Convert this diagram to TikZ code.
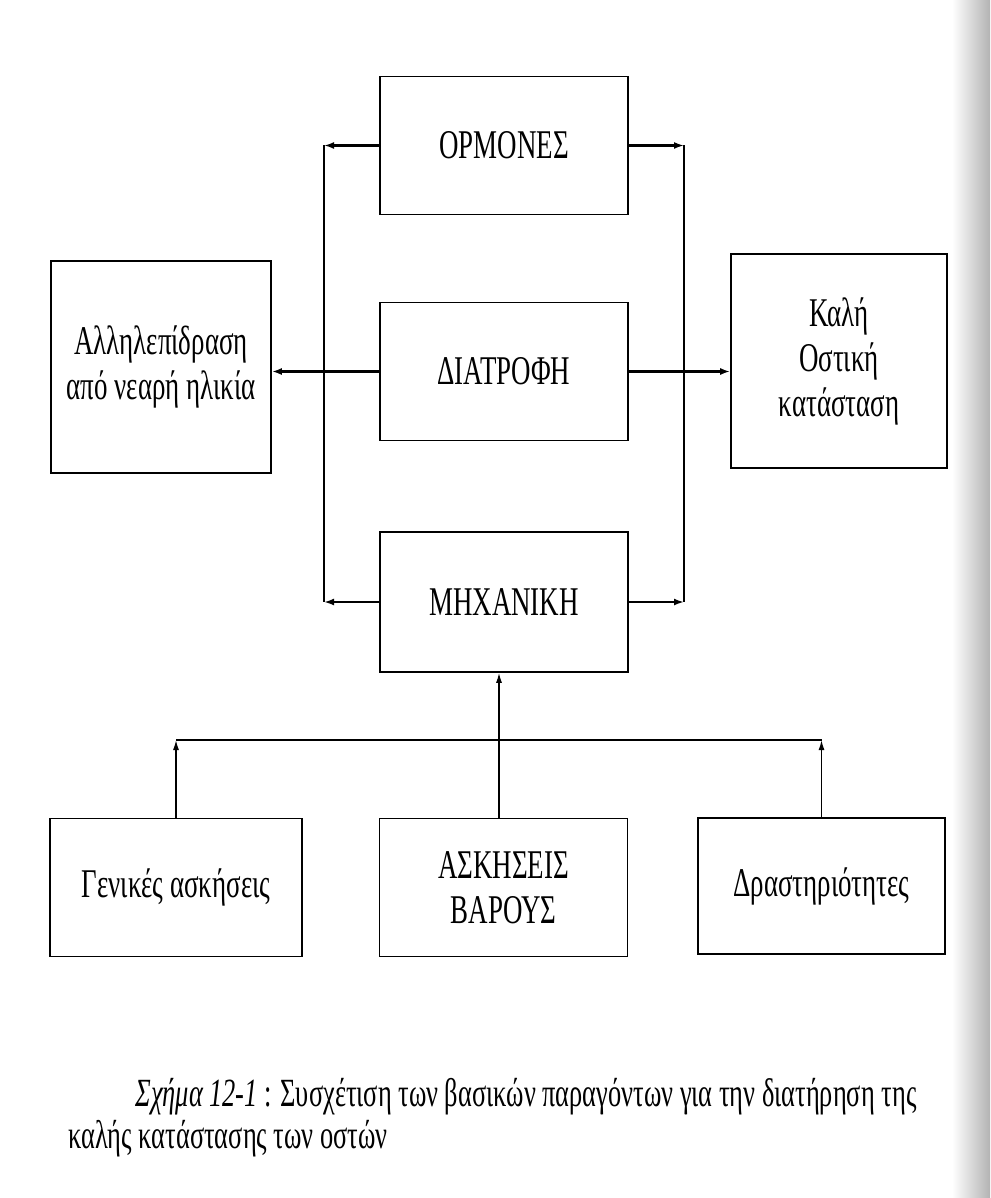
\documentclass[tikz,border=0pt]{standalone}
\usepackage{fontspec}
\setmainfont{Liberation Serif}[FakeStretch=0.66]
\usetikzlibrary{arrows.meta}
\begin{document}
\begin{tikzpicture}[x=0.5pt, y=-0.5pt,
    factor/.style={draw, line width=0.8pt, minimum width=124pt, minimum height=69pt,
      align=center, inner sep=0pt, font=\fontsize{20.4}{22.5}\selectfont},
    feed/.style={line width=1.4pt, -{Latex[length=5pt,width=3.5pt]}},
    rise/.style={line width=0.7pt, -{Latex[length=5pt,width=3pt]}},
    wire/.style={line width=0.7pt},
    legend/.style={anchor=base west, inner sep=0pt, font=\fontsize{20}{24}\selectfont}]
    \useasboundingbox (0,0) rectangle (990,1198);
    \shade[left color=white, right color=black!30] (952,0) rectangle (990,1198);
    \node[factor] (ormones) at (504,145.5) {ΟΡΜΟΝΕΣ};
    \node[factor] (diatrofi) at (504,371.5) {ΔΙΑΤΡΟΦΗ};
    \node[factor, minimum height=70pt] (mixaniki) at (504,602) {ΜΗΧΑΝΙΚΗ};
    \node[factor, minimum width=110pt, minimum height=106pt] (allilep) at (161,367) {Αλληλεπίδραση\\από νεαρή ηλικία};
    \node[factor, minimum width=108pt, minimum height=107pt] (kali) at (839,361) {Καλή\\Οστική\\κατάσταση};
    \node[factor, minimum width=126pt] (genikes) at (176,887.5) {Γενικές ασκήσεις};
    \node[factor] (askiseis) at (503.5,887.5) {ΑΣΚΗΣΕΙΣ\\ΒΑΡΟΥΣ};
    \node[factor, minimum width=123.5pt, minimum height=68pt] (drast) at (821.5,886) {Δραστηριότητες};
    \coordinate (lcol) at (324,0);
    \coordinate (rcol) at (684,0);
    \coordinate (hub) at (499,740);
    \draw[feed] (ormones.west) -- (ormones.west -| lcol);
    \draw[feed] (ormones.east) -- (ormones.east -| rcol);
    \draw[feed] (mixaniki.west) -- (mixaniki.west -| lcol);
    \draw[feed] (mixaniki.east) -- (mixaniki.east -| rcol);
    \draw[wire] (ormones.west -| lcol) -- (mixaniki.west -| lcol);
    \draw[wire] (ormones.east -| rcol) -- (mixaniki.east -| rcol);
    \draw[feed] (diatrofi.west) -- (diatrofi.west -| allilep.east);
    \draw[feed] (diatrofi.east) -- (diatrofi.east -| kali.west);
    \draw[wire] (genikes.north |- hub) -- (drast.north |- hub);
    \draw[rise] (genikes.north) -- (genikes.north |- hub);
    \draw[rise] (drast.north) -- (drast.north |- hub);
    \draw[rise] (hub |- askiseis.north) -- (hub |- mixaniki.south);
    \node[legend] (caption1) at (135,1106) {\textit{Σχήμα 12-1} : Συσχέτιση των βασικών παραγόντων για την διατήρηση της};
    \node[legend] (caption2) at (68,1148) {καλής κατάστασης των οστών};
\end{tikzpicture}
\end{document}
